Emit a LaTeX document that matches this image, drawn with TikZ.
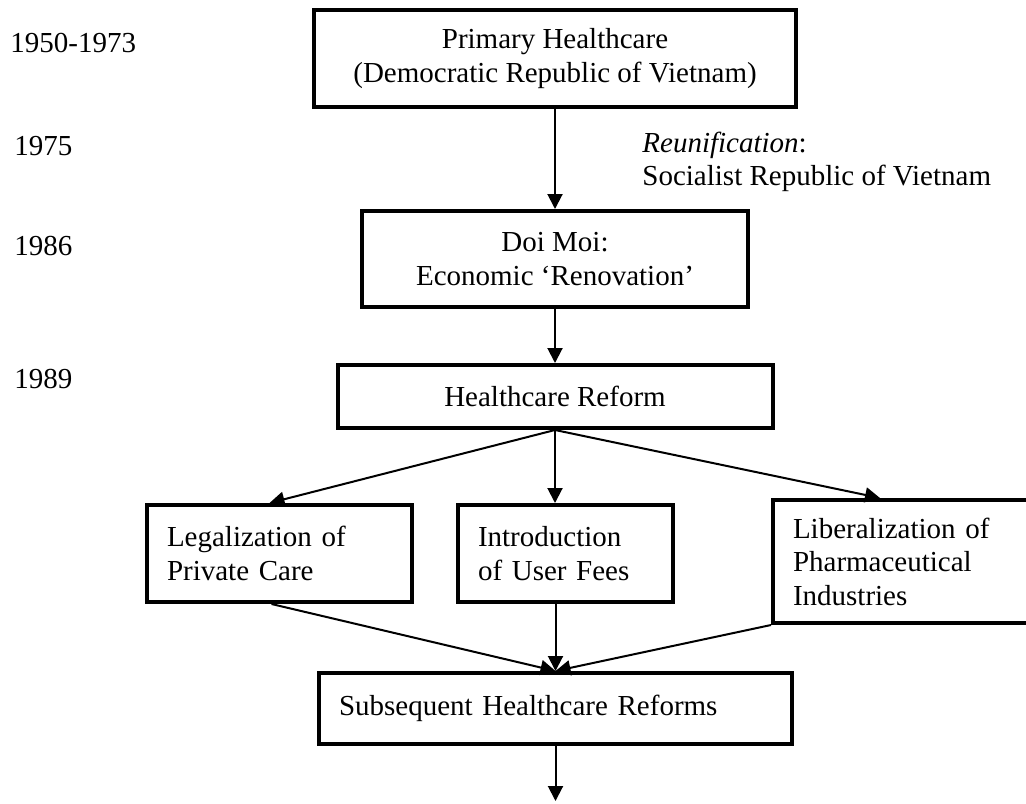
\documentclass[tikz,border=0pt]{standalone}
\usepackage{fontspec}
\setmainfont{Liberation Serif}
\usepackage{tikz}
\usetikzlibrary{arrows.meta}
\tikzset{
	box/.style 2 args={draw,line width=2pt,minimum width=#1,minimum height=#2,align=center,inner sep=0pt},
	lbox/.style 2 args={draw,line width=2pt,text width=#1,minimum height=#2,inner xsep=10pt,inner ysep=0pt,align=left},
	year/.style={anchor=base west,inner sep=0pt},
	arr/.style={-{Triangle[length=7.5pt,width=7.5pt]},line width=1pt}
}
\begin{document}
\begin{tikzpicture}[x=0.5pt,y=-0.5pt,every node/.style={font=\fontsize{14.5pt}{16.75pt}\selectfont}]
						\useasboundingbox (0,0) rectangle (1026,803);
						\clip (0,0) rectangle (1026,803);

						\node [year] (y1950) at (10,52) {1950-1973};
						\node [year] (y1975) at (14,155) {1975};
						\node [year] (y1986) at (14,255) {1986};
						\node [year] (y1989) at (14,388) {1989};

						\node [box={241pt}{48.5pt}] (prim) at (555,58.5) {Primary Healthcare\\(Democratic Republic of Vietnam)};
						\node [anchor=west,align=left,inner sep=0pt] (reunif) at (642,162) {\textit{Reunification}:\\Socialist Republic of Vietnam};
						\node [box={193pt}{48pt}] (doi) at (555,259) {Doi Moi:\\Economic `Renovation'};
						\node [box={217.5pt}{31.5pt}] (reform) at (555,396.5) {Healthcare Reform};
						\node [lbox={112.5pt}{48.5pt}] (legal) at (279.5,553.5) {Legalization of\\Private Care};
						\node [lbox={87.5pt}{48.5pt}] (intro) at (565.5,553.5) {Introduction\\of User Fees};
						\node [lbox={145pt}{61.5pt},anchor=west] (liber) at (771,561.5) {Liberalization of\\Pharmaceutical\\Industries};
						\node [lbox={216.5pt}{35.5pt}] (subs) at (555.5,708.5) {Subsequent Healthcare Reforms};

						\coordinate (libtip) at ([xshift=54.5pt]liber.north west);
						\coordinate (out) at (555.5,801);

						\draw [arr] (prim) -- (doi);
						\draw [arr] (doi) -- (reform);
						\draw [arr] (reform.south) -- ([xshift=-5pt]legal.north);
						\draw [arr] (reform.south) -- (reform.south |- intro.north);
						\draw [arr] (reform.south) -- (libtip);
						\draw [arr] ([xshift=-4pt]legal.south) -- (subs.north);
						\draw [arr] (subs.north |- intro.south) -- (subs.north);
						\draw [arr] (liber.south west) -- (subs.north);
						\draw [arr] (subs.south) -- (out);
					\end{tikzpicture}
\end{document}
